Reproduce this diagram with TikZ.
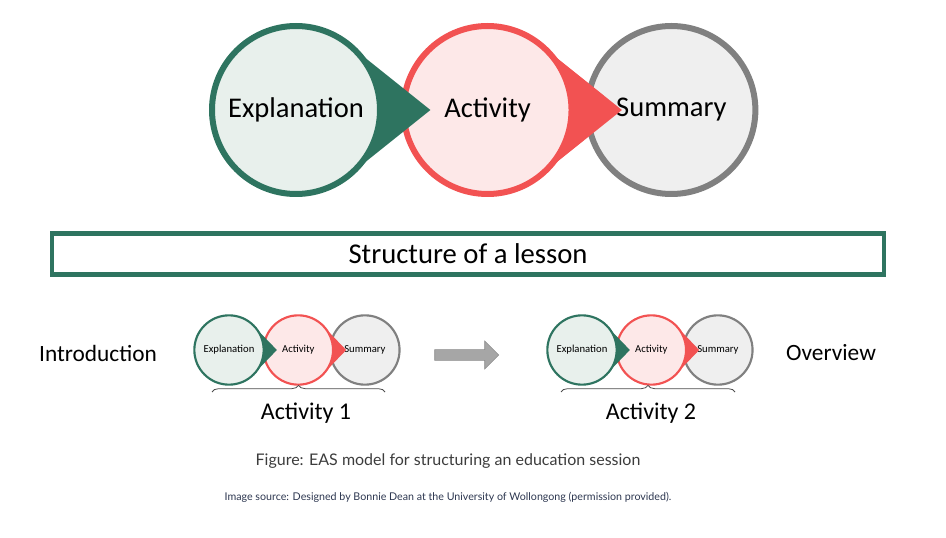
\documentclass[tikz,border=0pt]{standalone}
\usepackage{fontspec}
\setmainfont{Carlito}
\newfontfamily\latofont{Lato}
\usetikzlibrary{arrows.meta,decorations.pathreplacing,shapes.arrows,calc}
\definecolor{easgreen}{RGB}{46,116,96}
\definecolor{easgreenfill}{RGB}{232,240,236}
\definecolor{easred}{RGB}{242,82,82}
\definecolor{easredfill}{RGB}{253,232,232}
\definecolor{easgrey}{RGB}{128,128,128}
\definecolor{easgreyfill}{RGB}{239,239,239}
\definecolor{captext}{RGB}{60,60,60}
\definecolor{srctext}{RGB}{45,55,80}

% EAS model: #1 prefix, #2 centre of first circle, #3 radius, #4 font, #5 line width, #6 tip ratio, #7 spacing
\newcommand{\easmodel}[7]{%
  \coordinate (#1e) at #2;
  \coordinate (#1a) at ($(#1e)+(#7*#3,0)$);
  \coordinate (#1s) at ($(#1a)+(0.96*#7*#3,0)$);
  % Summary
  \node [circle,draw=easgrey,fill=easgreyfill,line width=#5,minimum size=2*#3,inner sep=0pt,font=#4] (#1sum) at (#1s) {Summary};
  % pointer Activity
  \fill [easred] ($(#1a)+(50:#3)$) -- ($(#1a)+(#6*#3,0)$) -- ($(#1a)+(-50:#3)$) -- cycle;
  \node [circle,draw=easred,fill=easredfill,line width=#5,minimum size=2*#3,inner sep=0pt,font=#4] (#1act) at (#1a) {Activity};
  % pointer Explanation
  \fill [easgreen] ($(#1e)+(50:#3)$) -- ($(#1e)+(#6*#3,0)$) -- ($(#1e)+(-50:#3)$) -- cycle;
  \node [circle,draw=easgreen,fill=easgreenfill,line width=#5,minimum size=2*#3,inner sep=0pt,font=#4] (#1exp) at (#1e) {Explanation};
}

\begin{document}
\begin{tikzpicture}[x=0.75pt,y=0.75pt,yscale=-1,xscale=1]
\useasboundingbox (0,0) rectangle (946,538);

% big model
\easmodel{big}{(296,110)}{63pt}{\fontsize{21.4}{24}\selectfont}{4.5pt}{1.6}{2.28}

% Rectangle: lesson
\node [draw=easgreen,line width=3.5pt,minimum width=624pt,minimum height=31pt,inner sep=0pt,font=\fontsize{21.5}{24}\selectfont] (lesson) at (468,254) {Structure of a lesson};

% small models
\easmodel{one}{(229,350)}{26pt}{\fontsize{8}{10}\selectfont}{1.6pt}{1.38}{2.0}
\easmodel{two}{(582,350)}{26pt}{\fontsize{8}{10}\selectfont}{1.6pt}{1.38}{2.0}

% Text Node
\node [font=\fontsize{17.5}{20}\selectfont] (intro) at (98,353) {Introduction};
\node [font=\fontsize{17.5}{20}\selectfont] (over) at (831,353) {Overview};

% Arrow
\node [single arrow,draw=easgrey!90,fill=easgrey!70,minimum height=48pt,minimum width=21pt,single arrow head extend=5pt,inner sep=3pt] (next) at (464,355) {};

% Braces
\draw [decorate,decoration={brace,amplitude=5pt},line width=0.6pt,draw=black!70] (212,392) -- (385,392);
\draw [decorate,decoration={brace,amplitude=5pt},line width=0.6pt,draw=black!70] (561,392) -- (735,392);
\node [font=\fontsize{18}{21}\selectfont] (actone) at (306,413) {Activity 1};
\node [font=\fontsize{18}{21}\selectfont] (acttwo) at (651,413) {Activity 2};

% Caption
\node [font=\latofont\fontsize{12}{14}\selectfont,text=captext] (caption) at (448,461) {Figure: EAS model for structuring an education session};
\node [font=\latofont\fontsize{8}{10}\selectfont,text=srctext] (source) at (448,497) {Image source: Designed by Bonnie Dean at the University of Wollongong (permission provided).};

\end{tikzpicture}
\end{document}
